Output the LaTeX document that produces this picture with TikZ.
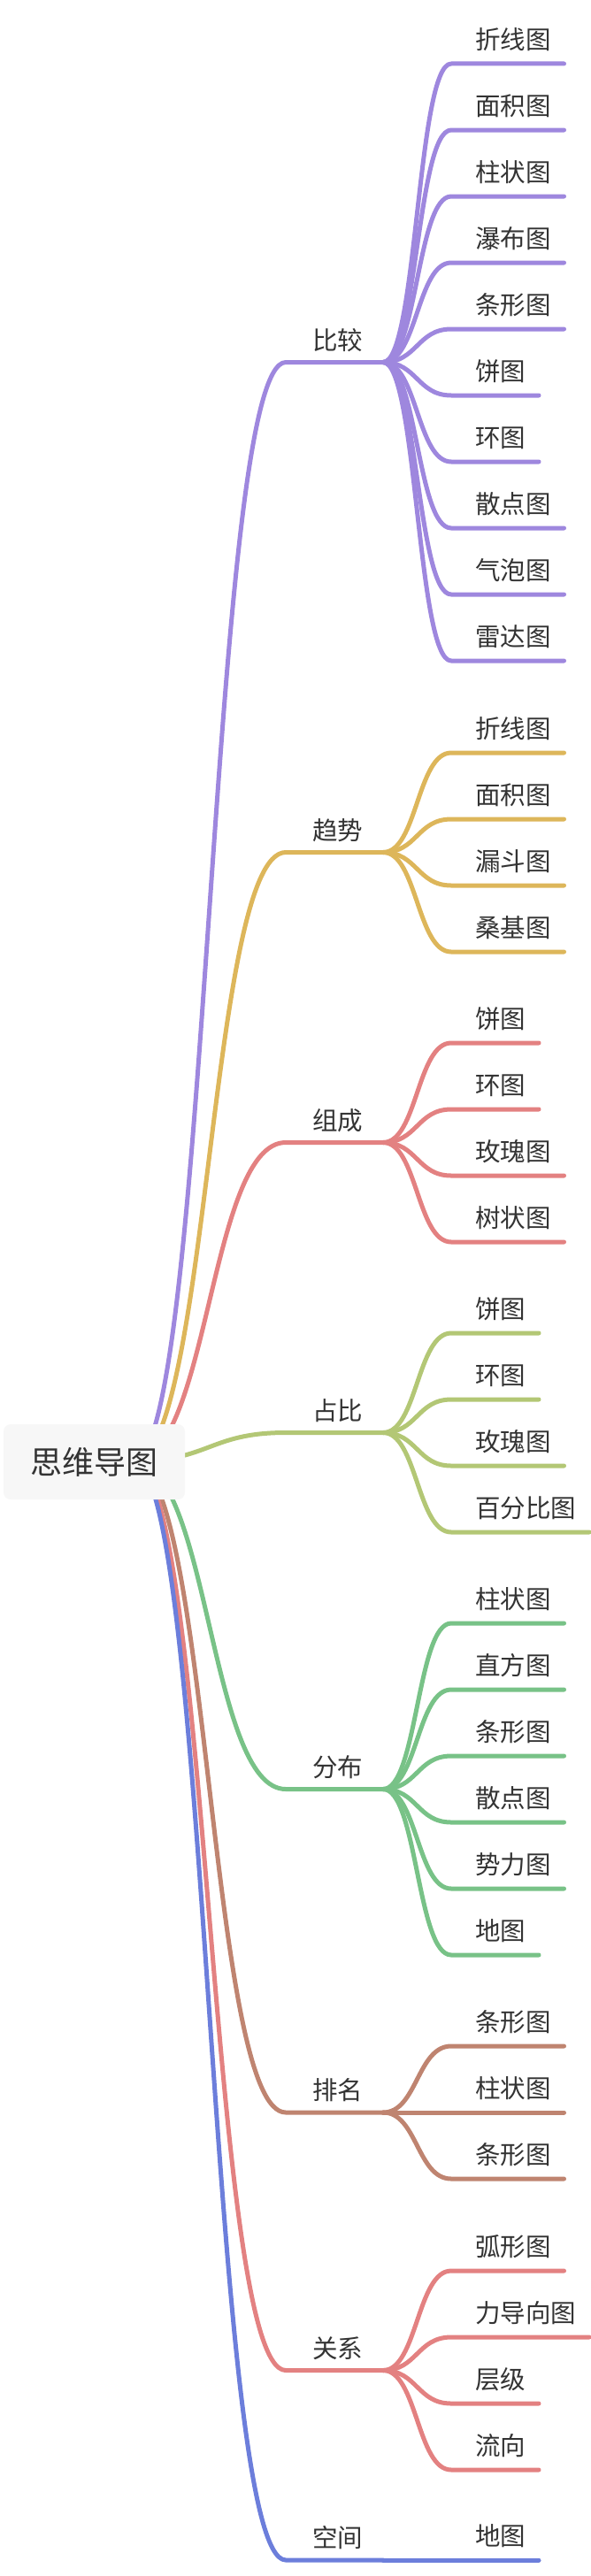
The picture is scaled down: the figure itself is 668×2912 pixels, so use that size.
\documentclass[tikz,border=0pt]{standalone}
\usepackage{fontspec}
\setmainfont{Noto Sans CJK SC}
\definecolor{txt}{HTML}{333333}
\definecolor{cpurple}{HTML}{9E87DE}
\definecolor{cgold}{HTML}{DDB65A}
\definecolor{cred}{HTML}{E38181}
\definecolor{colive}{HTML}{B3C775}
\definecolor{cgreen}{HTML}{78C287}
\definecolor{cbrown}{HTML}{BF8470}
\definecolor{cblue}{HTML}{6C7EDB}
\definecolor{rootfill}{HTML}{F7F7F7}
\newcommand\mmbranch[4]{% id, y, color, label
  \coordinate (#1a) at (323,#2);
  \coordinate (#1b) at (433,#2);
  \draw[conn,#3] (src) .. controls +(86.5,0) and +(-86.5,0) .. (#1a) -- (#1b);
  \node[btext] (#1t) at (353,#2-25) {#4};
}
\newcommand\mmleaf[6]{% parent, id, y, color, label, nchars
  \coordinate (#2s) at (510,#3);
  \coordinate (#2e) at (537+#6*28.5+15,#3);
  \draw[conn,#4] (#1b) .. controls +(38.5,0) and +(-38.5,0) .. (#2s) -- (#2e);
  \node[ltext] (#2t) at (537,#3-27) {#5};
}
\begin{document}
\begin{tikzpicture}[x=1pt,y=-1pt,
  conn/.style={line width=5pt,line cap=round,line join=round},
  btext/.style={anchor=west,inner sep=0pt,text=txt,font=\fontsize{28.5}{30}\selectfont},
  ltext/.style={anchor=west,inner sep=0pt,text=txt,font=\fontsize{28.5}{30}\selectfont},
  rootbox/.style={fill=rootfill,rounded corners=8pt,minimum width=205pt,minimum height=85pt,inner sep=0pt,text=txt,font=\fontsize{36}{38}\selectfont}]
\useasboundingbox (0,0) rectangle (668,2912);
\coordinate (src) at (150,1652);
% 比较
\mmbranch{b1}{409.5}{cpurple}{比较}
\mmleaf{b1}{b1c1}{72}{cpurple}{折线图}{3}
\mmleaf{b1}{b1c2}{147}{cpurple}{面积图}{3}
\mmleaf{b1}{b1c3}{222}{cpurple}{柱状图}{3}
\mmleaf{b1}{b1c4}{297}{cpurple}{瀑布图}{3}
\mmleaf{b1}{b1c5}{372}{cpurple}{条形图}{3}
\mmleaf{b1}{b1c6}{447}{cpurple}{饼图}{2}
\mmleaf{b1}{b1c7}{522}{cpurple}{环图}{2}
\mmleaf{b1}{b1c8}{597}{cpurple}{散点图}{3}
\mmleaf{b1}{b1c9}{672}{cpurple}{气泡图}{3}
\mmleaf{b1}{b1c10}{747}{cpurple}{雷达图}{3}
% 趋势
\mmbranch{b2}{963.5}{cgold}{趋势}
\mmleaf{b2}{b2c1}{851}{cgold}{折线图}{3}
\mmleaf{b2}{b2c2}{926}{cgold}{面积图}{3}
\mmleaf{b2}{b2c3}{1001}{cgold}{漏斗图}{3}
\mmleaf{b2}{b2c4}{1076}{cgold}{桑基图}{3}
% 组成
\mmbranch{b3}{1291.5}{cred}{组成}
\mmleaf{b3}{b3c1}{1179}{cred}{饼图}{2}
\mmleaf{b3}{b3c2}{1254}{cred}{环图}{2}
\mmleaf{b3}{b3c3}{1329}{cred}{玫瑰图}{3}
\mmleaf{b3}{b3c4}{1404}{cred}{树状图}{3}
% 占比
\mmbranch{b4}{1619.5}{colive}{占比}
\mmleaf{b4}{b4c1}{1507}{colive}{饼图}{2}
\mmleaf{b4}{b4c2}{1582}{colive}{环图}{2}
\mmleaf{b4}{b4c3}{1657}{colive}{玫瑰图}{3}
\mmleaf{b4}{b4c4}{1732}{colive}{百分比图}{4}
% 分布
\mmbranch{b5}{2022.5}{cgreen}{分布}
\mmleaf{b5}{b5c1}{1835}{cgreen}{柱状图}{3}
\mmleaf{b5}{b5c2}{1910}{cgreen}{直方图}{3}
\mmleaf{b5}{b5c3}{1985}{cgreen}{条形图}{3}
\mmleaf{b5}{b5c4}{2060}{cgreen}{散点图}{3}
\mmleaf{b5}{b5c5}{2135}{cgreen}{势力图}{3}
\mmleaf{b5}{b5c6}{2210}{cgreen}{地图}{2}
% 排名
\mmbranch{b6}{2388}{cbrown}{排名}
\mmleaf{b6}{b6c1}{2313}{cbrown}{条形图}{3}
\mmleaf{b6}{b6c2}{2388}{cbrown}{柱状图}{3}
\mmleaf{b6}{b6c3}{2463}{cbrown}{条形图}{3}
% 关系
\mmbranch{b7}{2679.5}{cred}{关系}
\mmleaf{b7}{b7c1}{2567}{cred}{弧形图}{3}
\mmleaf{b7}{b7c2}{2642}{cred}{力导向图}{4}
\mmleaf{b7}{b7c3}{2717}{cred}{层级}{2}
\mmleaf{b7}{b7c4}{2792}{cred}{流向}{2}
% 空间
\mmbranch{b8}{2894}{cblue}{空间}
\mmleaf{b8}{b8c1}{2894}{cblue}{地图}{2}
% root
\node[rootbox] (root) at (106.5,1652.5) {思维导图};
\end{tikzpicture}
\end{document}
